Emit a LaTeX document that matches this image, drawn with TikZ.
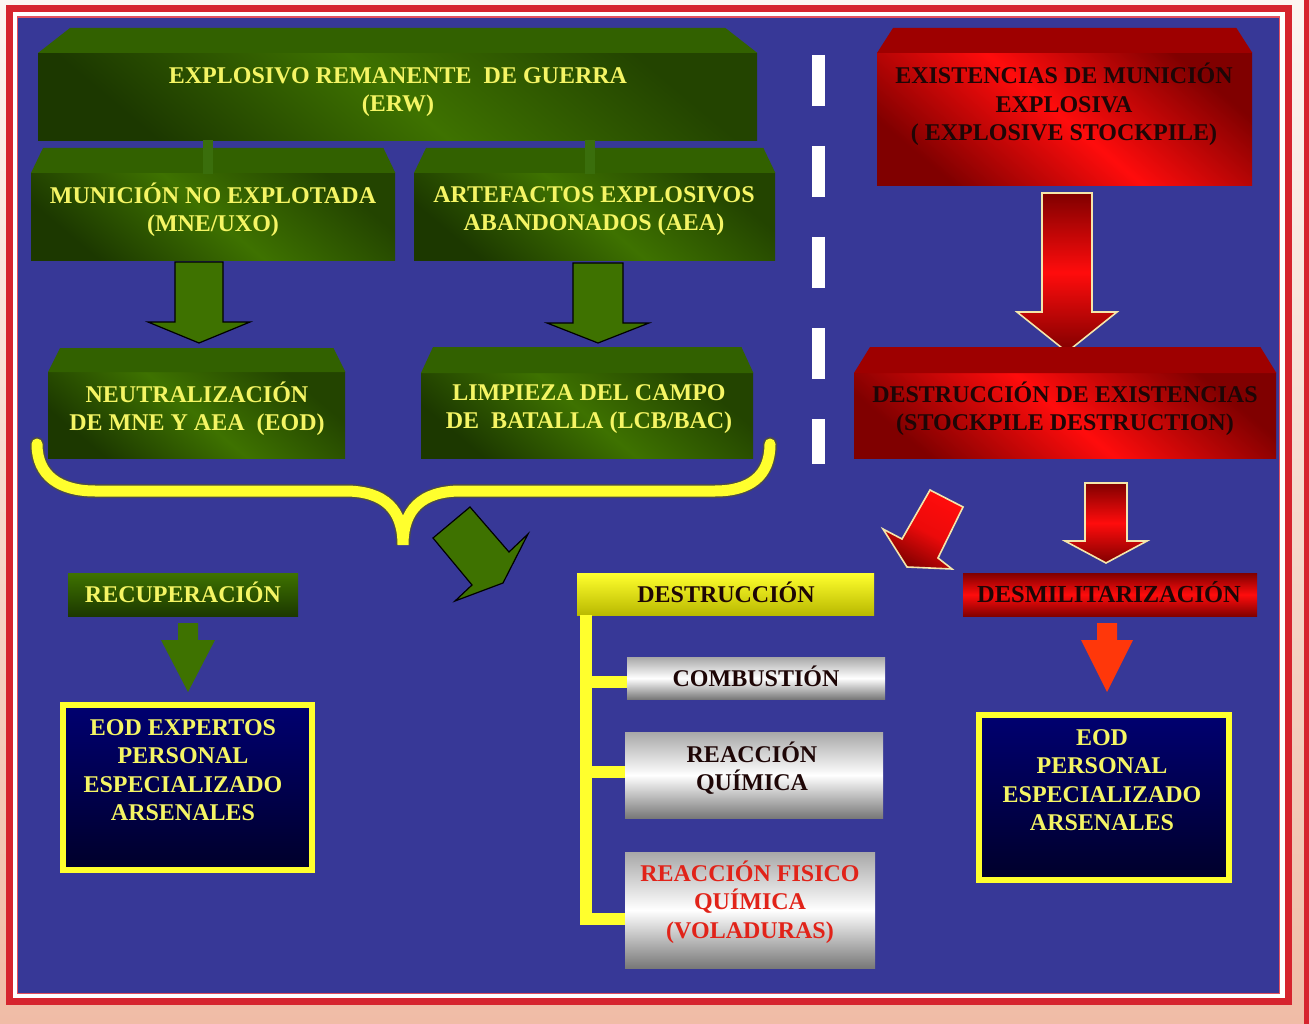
\documentclass[tikz,border=0pt]{standalone}
\usepackage{fontspec}
\setmainfont{Liberation Serif}
\definecolor{bgtop}{RGB}{252,245,241}
\definecolor{bgbot}{RGB}{240,188,166}
\definecolor{bluebg}{RGB}{55,56,151}
\definecolor{framec}{RGB}{214,36,46}
\definecolor{framethin}{RGB}{225,80,95}
\definecolor{gtopc}{RGB}{50,97,0}
\definecolor{gmid}{RGB}{62,114,0}
\definecolor{gdk}{RGB}{28,56,0}
\definecolor{gstub}{RGB}{58,110,12}
\definecolor{rtopc}{RGB}{158,0,0}
\definecolor{rmid}{RGB}{255,12,12}
\definecolor{rdk}{RGB}{128,0,0}
\definecolor{ytxt}{RGB}{245,245,100}
\definecolor{btxt}{RGB}{30,6,6}
\definecolor{rtxt}{RGB}{225,35,25}
\definecolor{cream}{RGB}{245,230,170}
\definecolor{ylw}{RGB}{255,255,45}
\definecolor{ydk}{RGB}{185,185,0}
\definecolor{navy}{RGB}{0,0,112}
\definecolor{navydk}{RGB}{0,0,42}
\definecolor{orng}{RGB}{255,55,10}
\definecolor{silvtop}{RGB}{168,168,168}
\definecolor{silvbot}{RGB}{120,120,120}
\newcommand\bevtop[4]{\fill[#4] (#1.north west) -- ([xshift=#2pt,yshift=#3pt]#1.north west) -- ([xshift=-#2pt,yshift=#3pt]#1.north east) -- (#1.north east) -- cycle;}
\newcommand\downblock[7]{\path[#1] (#2-#4,#3) -- (#2+#4,#3) -- (#2+#4,#5) -- (#2+#6,#5) -- (#2,#7) -- (#2-#6,#5) -- (#2-#4,#5) -- cycle;}
\tikzset{
  boxbase/.style={inner sep=0pt, anchor=north west},
  gface/.style={boxbase, top color=gdk!80!gmid, bottom color=gdk, middle color=gmid, shading angle=-40},
  rface/.style={boxbase, top color=rdk, bottom color=rdk, middle color=rmid, shading angle=-40},
  gflat/.style={boxbase, top color=gmid, bottom color=gdk},
  rflat/.style={boxbase, top color=rdk, bottom color=rdk, middle color=rmid},
  yflat/.style={boxbase, top color=ylw, bottom color=ydk},
  silver/.style={boxbase, top color=silvtop, bottom color=silvbot, middle color=white},
  eodbox/.style={boxbase, top color=navy, bottom color=navydk, draw=ylw, line width=6pt},
  txt/.style={font=\bfseries\fontsize{24pt}{28.5pt}\selectfont, align=center, inner sep=0pt},
  ytx/.style={txt, text=ytxt},
  btx/.style={txt, text=btxt},
  rtx/.style={txt, text=rtxt},
  garrow/.style={fill=gmid, draw=black, line width=1.2pt, line join=miter},
  rarrow/.style={draw=cream, line width=1.6pt, top color=rdk, bottom color=rdk, middle color=rmid},
  flatarrow/.style={fill=#1},
  stub/.style={draw=gstub, line width=10pt},
  ytree/.style={draw=ylw, line width=12pt, line join=miter},
}
\begin{document}
\begin{tikzpicture}[x=1pt,y=-1pt]
\useasboundingbox (0,0) rectangle (1309,1024);
% frame
\shade[top color=bgtop, bottom color=bgbot] (0,0) rectangle (1309,1024);
\fill[framec] (1304,0) rectangle (1309,1024);
\draw[framec, line width=7pt] (9.5,8.5) rectangle (1288.5,1001.5);
\fill[white] (13,12) rectangle (1285,998);
\draw[framethin, line width=1.5pt] (17.5,17) rectangle (1279,993.5);
\fill[bluebg] (18,18) rectangle (1278.5,993);

% ---------- green column ----------
\node[gface, minimum width=719pt, minimum height=87pt] (erw) at (38,53) {};
\bevtop{erw}{32}{25}{gtopc}
\node[ytx] (erwt) at (398,92) {EXPLOSIVO REMANENTE~ DE GUERRA\\(ERW)};

\node[gface, minimum width=364pt, minimum height=87pt] (mne) at (31,173) {};
\bevtop{mne}{12}{25}{gtopc}
\node[ytx] (mnet) at (213,210) {MUNICIÓN NO EXPLOTADA\\(MNE/UXO)};

\node[gface, minimum width=361pt, minimum height=87pt] (aea) at (414,173) {};
\bevtop{aea}{12}{25}{gtopc}
\node[ytx] (aeat) at (594,211) {ARTEFACTOS EXPLOSIVOS\\ABANDONADOS (AEA)};

\draw[stub] ([xshift=-5pt]mne.north |- erw.south) -- ([xshift=-5pt,yshift=-1pt]mne.north);
\draw[stub] ([xshift=-5pt]aea.north |- erw.south) -- ([xshift=-5pt,yshift=-1pt]aea.north);

\downblock{garrow}{199}{262}{24}{322}{51}{343}
\downblock{garrow}{598}{263}{25}{323}{51}{343}

\node[gface, minimum width=297pt, minimum height=86pt] (neut) at (48,372) {};
\bevtop{neut}{12}{24}{gtopc}
\node[ytx] (neutt) at (197,409) {NEUTRALIZACIÓN\\DE MNE Y AEA~ (EOD)};

\node[gface, minimum width=332pt, minimum height=85pt] (lcb) at (421,373) {};
\bevtop{lcb}{12}{26}{gtopc}
\node[ytx] (lcbt) at (589,409) {LIMPIEZA DEL CAMPO\\DE~ BATALLA (LCB/BAC)};

% brace
\foreach \w/\c in {14/black!70, 11/ylw}{
  \draw[line width=\w pt, draw=\c, line cap=round]
    (37,444) .. controls (37,476) and (60,491) .. (95,491) -- (345,491)
    .. controls (385,491) and (403,510) .. (403,545)
    .. controls (403,510) and (421,491) .. (461,491) -- (715,491)
    .. controls (750,491) and (770,476) .. (770,444);
}
% green diagonal arrow
\path[garrow] (470,507) -- (509,552) -- (528,534) -- (503,583) -- (455,601) -- (472,585) -- (433,538) -- cycle;

\node[gflat, minimum width=230pt, minimum height=43pt] (recup) at (68,573) {};
\node[ytx, text height=16pt, text depth=0pt] (recupt) at (183,594) {RECUPERACIÓN};
\downblock{flatarrow=gmid}{188}{623}{10}{640}{27}{692}

\node[eodbox, minimum width=249pt, minimum height=165pt] (eodl) at (60,702) {};
\node[ytx] (eodlt) at (183,770) {EOD EXPERTOS\\PERSONAL\\ESPECIALIZADO\\ARSENALES};

% dashed separator
\draw[white, line width=13pt, dash pattern=on 51pt off 40pt] (818,55) -- (818,464);

% ---------- red column ----------
\node[rface, minimum width=375pt, minimum height=132pt] (expl) at (877,53) {};
\bevtop{expl}{16}{25}{rtopc}
\node[btx] (explt) at (1064,104.5) {EXISTENCIAS DE MUNICIÓN\\EXPLOSIVA\\( EXPLOSIVE STOCKPILE)};

\downblock{rarrow}{1067}{193}{25}{312}{50}{352}

\node[rface, minimum width=422pt, minimum height=85pt] (sd) at (854,373) {};
\bevtop{sd}{16}{26}{rtopc}
\node[btx] (sdt) at (1065,409) {DESTRUCCIÓN DE EXISTENCIAS\\(STOCKPILE DESTRUCTION)};

\path[draw=cream, line width=1.6pt, top color=rmid, bottom color=rdk, middle color=rmid!85!rdk, shading angle=-28]
  (930,490) -- (963,507) -- (938,558) -- (952,569) -- (907,567) -- (883,529) -- (902,539) -- cycle;
\downblock{rarrow}{1106}{483}{21}{541}{41}{563}

\node[rflat, minimum width=294pt, minimum height=43pt] (desmil) at (963,573) {};
\node[btx, font=\bfseries\fontsize{24.5pt}{28pt}\selectfont, text height=16pt, text depth=0pt] (desmilt) at (1109,594) {DESMILITARIZACIÓN};
\downblock{flatarrow=orng}{1107}{623}{10}{640}{26}{692}

\node[eodbox, minimum width=250pt, minimum height=165pt] (eodr) at (976,712) {};
\node[ytx] (eodrt) at (1102,780) {EOD\\PERSONAL\\ESPECIALIZADO\\ARSENALES};

% ---------- destruction tree ----------
\node[yflat, minimum width=297pt, minimum height=42pt] (destr) at (577,573) {};
\node[btx, text height=16pt, text depth=0pt] (destrt) at (726,594) {DESTRUCCIÓN};

\node[silver, minimum width=258pt, minimum height=42pt] (comb) at (627,657) {};
\node[btx, text height=16pt, text depth=0pt] (combt) at (756,678) {COMBUSTIÓN};

\node[silver, minimum width=258pt, minimum height=86pt] (reac) at (625,732) {};
\node[btx] (react) at (752,768) {REACCIÓN\\QUÍMICA};

\node[silver, minimum width=250pt, minimum height=116pt] (fis) at (625,852) {};
\node[rtx] (fist) at (750,902) {REACCIÓN FISICO\\QUÍMICA\\(VOLADURAS)};

\coordinate (trtop) at ([xshift=9pt]destr.south west);
\draw[ytree] (trtop) |- ([yshift=-4pt]comb.west);
\draw[ytree] (trtop) |- ([yshift=3pt]reac.west);
\draw[ytree] (trtop) |- ([yshift=-9pt]fis.west);
\end{tikzpicture}
\end{document}
